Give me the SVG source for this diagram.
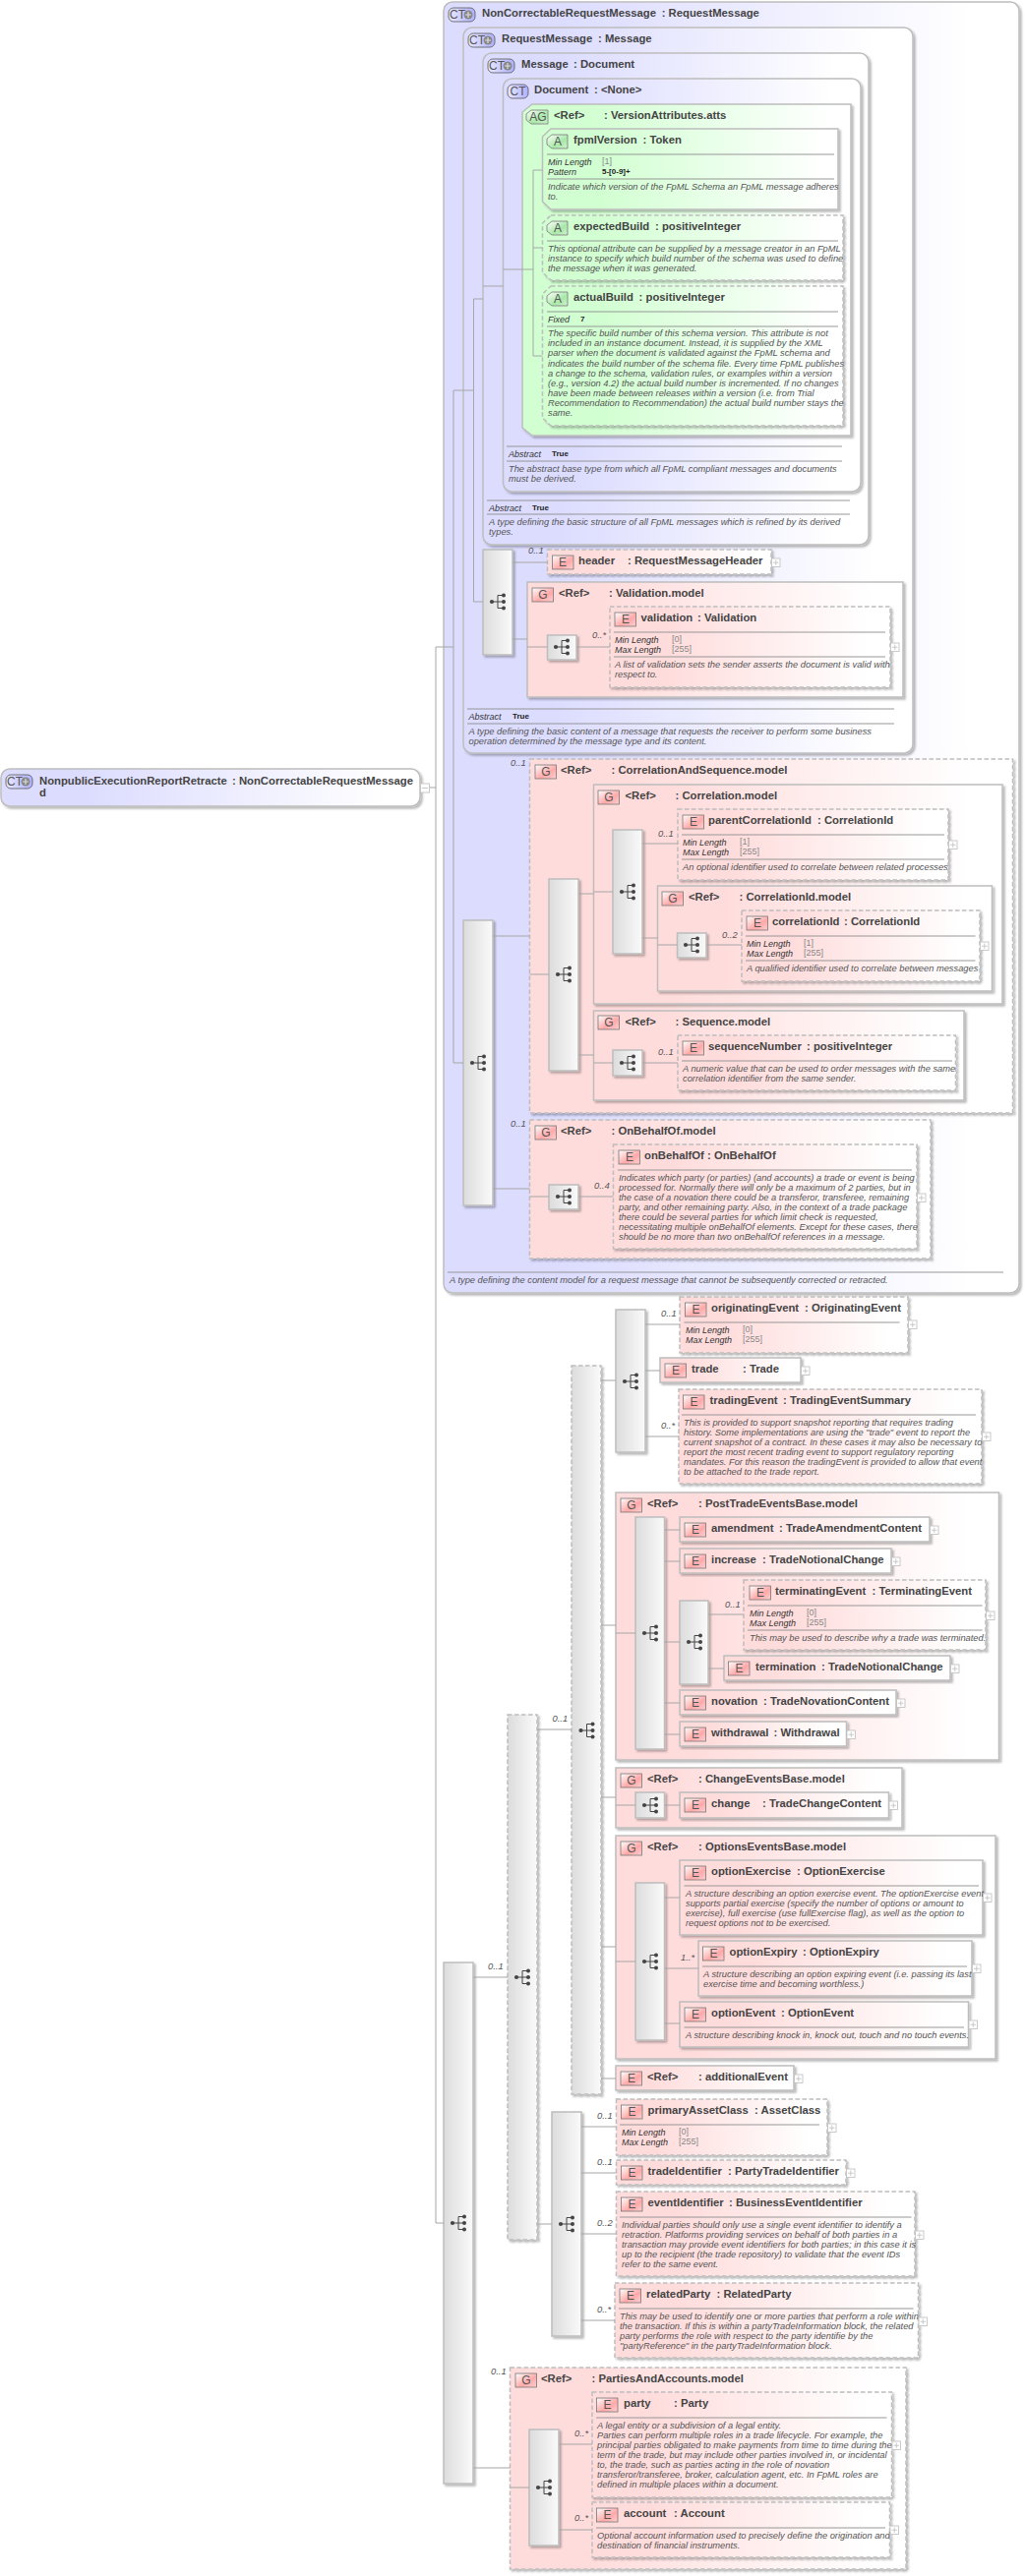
<svg xmlns="http://www.w3.org/2000/svg" xmlns:xlink="http://www.w3.org/1999/xlink" width="1042" height="2620" viewBox="0 0 1042 2620">
<style>
text{font-family:"Liberation Sans",Arial,sans-serif}
.n{stroke:#bdbdbd;stroke-width:1.5;filter:url(#sh)}
.d{stroke-dasharray:4.5 2.5}
.fc{fill:url(#gc)}.fe{fill:url(#ge)}.fa{fill:url(#ga)}.fs{fill:url(#gs)}
.t{font-size:11.3px;font-weight:bold;fill:#444}
.s{font-size:9.3px;font-style:italic;fill:#555}
.l{font-size:9px;font-style:italic;fill:#333}
.v{font-size:9px;fill:#888}
.b{font-size:8px;font-weight:bold;fill:#222}
.o{font-size:9.4px;font-style:italic;fill:#555}
.i{font-size:12px;fill:#555;text-anchor:middle}
.ie{fill:url(#gie);stroke:#777;stroke-width:.8}
.ia{fill:url(#gia);stroke:#777;stroke-width:.8}
.ic{fill:url(#gic);stroke:#555;stroke-width:.8}
.r{stroke:#8c8c8c;stroke-width:.9;fill:none}
#conn path{stroke:#a6a6a6;stroke-width:1;fill:none}
.pb{fill:#fff;stroke:#c4c4c4;stroke-width:.9}
.pl{stroke:#c4c4c4;stroke-width:.9;fill:none}
</style>
<defs>
<filter id="sh" x="-10%" y="-10%" width="125%" height="125%"><feDropShadow dx="2" dy="2" stdDeviation="1" flood-color="#000" flood-opacity=".28"/></filter>
<linearGradient id="gc"><stop offset="0" stop-color="#dcdcff"/><stop offset=".2" stop-color="#dcdcff"/><stop offset=".92" stop-color="#fff"/></linearGradient>
<linearGradient id="ge"><stop offset="0" stop-color="#ffdcdc"/><stop offset=".2" stop-color="#ffdcdc"/><stop offset=".92" stop-color="#fff"/></linearGradient>
<linearGradient id="ga"><stop offset="0" stop-color="#d2ffd2"/><stop offset=".2" stop-color="#d2ffd2"/><stop offset=".95" stop-color="#fff"/></linearGradient>
<linearGradient id="gs"><stop offset="0" stop-color="#dcdcdc"/><stop offset="1" stop-color="#fafafa"/></linearGradient>
<linearGradient id="gie" x2="1" y2="1"><stop offset="0" stop-color="#fff"/><stop offset=".6" stop-color="#ffa8a8"/><stop offset="1" stop-color="#ffd0d0"/></linearGradient>
<linearGradient id="gia" x2="1" y2="1"><stop offset="0" stop-color="#fff"/><stop offset=".6" stop-color="#a8e8a8"/><stop offset="1" stop-color="#d0f0d0"/></linearGradient>
<linearGradient id="gic"><stop offset="0" stop-color="#e8e8ff"/><stop offset="1" stop-color="#b0b0ff"/></linearGradient>
<g id="q"><path d="M-6 0H0M0-6.5H6M0 0H6M0 6.5H6M0-6.5V6.5" stroke="#444" stroke-width="1" fill="none"/><circle cx="-6" r="2.1" fill="#444"/><circle cx="6" cy="-6.5" r="2" fill="#444"/><circle cx="6" r="2" fill="#444"/><circle cx="6" cy="6.5" r="2" fill="#444"/></g>
<g id="p"><rect class="pb" width="8.5" height="8.5"/><path class="pl" d="M1.5 4.25H7M4.25 1.5V7"/></g>
<g id="cp"><circle cx="0" cy="0" r="4.5" fill="#888"/><path d="M-3 0H3M0-3V3" stroke="#ddd" stroke-width="1.2"/></g>
</defs>

<g id="ct-noncorrectable"><rect class="n fc" x="451" y="2" width="585" height="1313" rx="9"/><rect class="ic" x="456" y="8" width="27" height="14" rx="5"/><text class="i" x="465" y="19">CT</text><use href="#cp" x="476" y="15"/><text class="t" x="490" y="17">NonCorrectableRequestMessage<tspan x="672.7">: RequestMessage</tspan></text>
<path class="r" d="M455 1294H1020"/><text class="s" x="457" y="1305">A type defining the content model for a request message that cannot be subsequently corrected or retracted.</text></g>

<g id="ct-request"><rect class="n fc" x="471" y="28" width="457" height="738" rx="9"/><rect class="ic" x="476" y="34" width="27" height="14" rx="5"/><text class="i" x="485" y="45">CT</text><use href="#cp" x="496" y="41"/><text class="t" x="510" y="43">RequestMessage<tspan x="608">: Message</tspan></text>
<path class="r" d="M475 721H909M475 736H909"/><text class="l" x="476.5" y="732">Abstract</text><text class="b" x="521" y="731">True</text><text class="s" x="476.5" y="747">A type defining the basic content of a message that requests the receiver to perform some business</text><text class="s" x="476.5" y="757">operation determined by the message type and its content.</text></g>

<g id="ct-message"><rect class="n fc" x="491" y="54" width="392" height="500" rx="9"/><rect class="ic" x="496" y="60" width="27" height="14" rx="5"/><text class="i" x="505" y="71">CT</text><use href="#cp" x="516" y="67"/><text class="t" x="530" y="69">Message<tspan x="583">: Document</tspan></text>
<path class="r" d="M495 509H864M495 523H864"/><text class="l" x="497" y="520">Abstract</text><text class="b" x="541" y="519">True</text><text class="s" x="497" y="534">A type defining the basic structure of all FpML messages which is refined by its derived</text><text class="s" x="497" y="544">types.</text></g>

<g id="ct-document"><rect class="n fc" x="511.5" y="80" width="363.5" height="420" rx="9"/><rect class="ic" x="516" y="86" width="21" height="14" rx="5"/><text class="i" x="526.5" y="97">CT</text><text class="t" x="543" y="95">Document<tspan x="604">: &lt;None&gt;</tspan></text>
<path class="r" d="M515 454H856M515 469H856"/><text class="l" x="517" y="465">Abstract</text><text class="b" x="561" y="464">True</text><text class="s" x="517" y="480">The abstract base type from which all FpML compliant messages and documents</text><text class="s" x="517" y="490">must be derived.</text></g>

<g id="ag-version"><path class="n fa" d="M541 106H865V443H541L531 435V114Z"/><path class="ia" d="M540 112H557V126H540L535 122V116Z"/><text class="i" x="547" y="123">AG</text><text class="t" x="563" y="121">&lt;Ref&gt;<tspan x="614">: VersionAttributes.atts</tspan></text></g>

<g id="a-fpmlVersion"><path class="n fa" d="M560 131H852V213H560L551.5 205V139Z"/><path class="ia" d="M561 137H577V151H561L556 147V141Z"/><text class="i" x="567" y="148">A</text><text class="t" x="583" y="146">fpmlVersion<tspan x="653.5">: Token</tspan></text><path class="r" d="M556 157H848M556 182H848"/><text class="l" x="557" y="168">Min Length</text><text class="v" x="612" y="167">[1]</text><text class="l" x="557" y="178">Pattern</text><text class="b" x="612" y="177">5-[0-9]+</text><text class="s" x="557" y="193">Indicate which version of the FpML Schema an FpML message adheres</text><text class="s" x="557" y="203">to.</text></g>

<g id="a-expectedBuild"><path class="n d fa" d="M560 219H857V285H560L551.5 277V227Z"/><path class="ia" d="M561 225H577V239H561L556 235V229Z"/><text class="i" x="567" y="236">A</text><text class="t" x="583" y="234">expectedBuild<tspan x="666">: positiveInteger</tspan></text><path class="r" d="M556 245H852"/><text class="s" x="557" y="256">This optional attribute can be supplied by a message creator in an FpML</text><text class="s" x="557" y="266">instance to specify which build number of the schema was used to define</text><text class="s" x="557" y="276">the message when it was generated.</text></g>

<g id="a-actualBuild"><path class="n d fa" d="M560 291H857V433H560L551.5 425V299Z"/><path class="ia" d="M561 297H577V311H561L556 307V301Z"/><text class="i" x="567" y="308">A</text><text class="t" x="583" y="306">actualBuild<tspan x="649.6">: positiveInteger</tspan></text><path class="r" d="M556 317H852M556 332H852"/><text class="l" x="557" y="328">Fixed</text><text class="b" x="590" y="327">7</text>
<text class="s" x="557" y="342">The specific build number of this schema version. This attribute is not</text><text class="s" x="557" y="352">included in an instance document. Instead, it is supplied by the XML</text><text class="s" x="557" y="362">parser when the document is validated against the FpML schema and</text><text class="s" x="557" y="372.5">indicates the build number of the schema file. Every time FpML publishes</text><text class="s" x="557" y="382.5">a change to the schema, validation rules, or examples within a version</text><text class="s" x="557" y="392.5">(e.g., version 4.2) the actual build number is incremented. If no changes</text><text class="s" x="557" y="402.5">have been made between releases within a version (i.e. from Trial</text><text class="s" x="557" y="412.5">Recommendation to Recommendation) the actual build number stays the</text><text class="s" x="557" y="423">same.</text></g>

<g id="seq-request"><rect class="n fs" x="491" y="559" width="30" height="107"/><use href="#q" x="506" y="612"/></g>
<g id="e-header"><rect class="n d fe" x="556.5" y="559" width="227.5" height="25"/><rect class="ie" x="561.5" y="565" width="21.5" height="14"/><text class="i" x="572" y="576">E</text><text class="t" x="588" y="574">header<tspan x="638">: RequestMessageHeader</tspan></text><use href="#p" x="784.5" y="568"/></g>
<g id="g-validation"><rect class="n fe" x="536" y="592" width="382" height="117"/><rect class="ie" x="541" y="598" width="21.5" height="14"/><text class="i" x="552" y="609">G</text><text class="t" x="568" y="607">&lt;Ref&gt;<tspan x="619">: Validation.model</tspan></text></g>
<g id="seq-validation"><rect class="n fs" x="556.5" y="646" width="29.5" height="25"/><use href="#q" x="571" y="658"/></g>
<g id="e-validation"><rect class="n d fe" x="620" y="617" width="285" height="82"/><rect class="ie" x="625" y="623" width="21.5" height="14"/><text class="i" x="636" y="634">E</text><text class="t" x="651.5" y="632">validation<tspan x="709">: Validation</tspan></text><path class="r" d="M624 643H900M624 668H900"/><text class="l" x="625" y="654">Min Length</text><text class="v" x="683" y="653">[0]</text><text class="l" x="625" y="664">Max Length</text><text class="v" x="683" y="663">[255]</text><text class="s" x="625" y="679">A list of validation sets the sender asserts the document is valid with</text><text class="s" x="625" y="689">respect to.</text><use href="#p" x="905.5" y="654"/></g>

<g id="seq-content"><rect class="n fs" x="471" y="936" width="30" height="290"/><use href="#q" x="486" y="1081"/></g>
<g id="g-correlationAndSequence"><rect class="n d fe" x="538.5" y="772" width="491" height="360"/><rect class="ie" x="544" y="778" width="21.5" height="14"/><text class="i" x="555" y="789">G</text><text class="t" x="570" y="787">&lt;Ref&gt;<tspan x="621.5">: CorrelationAndSequence.model</tspan></text></g>
<g id="seq-cas"><rect class="n fs" x="558" y="894" width="30" height="195"/><use href="#q" x="573" y="991"/></g>
<g id="g-correlation"><rect class="n fe" x="603.5" y="798" width="415.5" height="223"/><rect class="ie" x="608" y="804" width="21.5" height="14"/><text class="i" x="619" y="815">G</text><text class="t" x="635.5" y="813">&lt;Ref&gt;<tspan x="686.5">: Correlation.model</tspan></text></g>
<g id="seq-correlation"><rect class="n fs" x="623" y="844" width="30" height="126"/><use href="#q" x="638" y="907"/></g>
<g id="e-parentCorrelationId"><rect class="n d fe" x="689" y="823" width="275" height="72"/><rect class="ie" x="694" y="829" width="21.5" height="14"/><text class="i" x="705" y="840">E</text><text class="t" x="720" y="838">parentCorrelationId<tspan x="831">: CorrelationId</tspan></text><path class="r" d="M693 849H960M693 874H960"/><text class="l" x="694" y="860">Min Length</text><text class="v" x="752" y="859">[1]</text><text class="l" x="694" y="870">Max Length</text><text class="v" x="752" y="869">[255]</text><text class="s" x="694" y="885">An optional identifier used to correlate between related processes</text><use href="#p" x="964.5" y="855"/></g>
<g id="g-correlationId"><rect class="n fe" x="668.5" y="901" width="340" height="107"/><rect class="ie" x="673" y="907" width="21.5" height="14"/><text class="i" x="684" y="918">G</text><text class="t" x="700" y="916">&lt;Ref&gt;<tspan x="751.5">: CorrelationId.model</tspan></text></g>
<g id="seq-correlationId"><rect class="n fs" x="688.5" y="949" width="29.5" height="25"/><use href="#q" x="703" y="961"/></g>
<g id="e-correlationId"><rect class="n d fe" x="754" y="926" width="242" height="72"/><rect class="ie" x="759" y="932" width="21.5" height="14"/><text class="i" x="770" y="943">E</text><text class="t" x="785" y="941">correlationId<tspan x="858">: CorrelationId</tspan></text><path class="r" d="M758 952H991.5M758 977H991.5"/><text class="l" x="759" y="963">Min Length</text><text class="v" x="817" y="962">[1]</text><text class="l" x="759" y="973">Max Length</text><text class="v" x="817" y="972">[255]</text><text class="s" x="759" y="988">A qualified identifier used to correlate between messages</text><use href="#p" x="996.5" y="958"/></g>
<g id="g-sequence"><rect class="n fe" x="603.5" y="1028" width="376.5" height="91"/><rect class="ie" x="608" y="1033" width="21.5" height="14"/><text class="i" x="619" y="1044">G</text><text class="t" x="635.5" y="1043">&lt;Ref&gt;<tspan x="686.5">: Sequence.model</tspan></text></g>
<g id="seq-sequence"><rect class="n fs" x="623" y="1068" width="30" height="26"/><use href="#q" x="638" y="1081"/></g>
<g id="e-sequenceNumber"><rect class="n d fe" x="689" y="1053" width="282.5" height="56"/><rect class="ie" x="694" y="1059" width="21.5" height="14"/><text class="i" x="705" y="1070">E</text><text class="t" x="720" y="1068">sequenceNumber<tspan x="820">: positiveInteger</tspan></text><path class="r" d="M693 1079H968"/><text class="s" x="694" y="1090">A numeric value that can be used to order messages with the same</text><text class="s" x="694" y="1100">correlation identifier from the same sender.</text></g>
<g id="g-onBehalfOf"><rect class="n d fe" x="538.5" y="1139" width="407.5" height="141"/><rect class="ie" x="544" y="1145" width="21.5" height="14"/><text class="i" x="555" y="1156">G</text><text class="t" x="570" y="1154">&lt;Ref&gt;<tspan x="621.5">: OnBehalfOf.model</tspan></text></g>
<g id="seq-onBehalfOf"><rect class="n fs" x="558" y="1205" width="30" height="25"/><use href="#q" x="573" y="1217"/></g>
<g id="e-onBehalfOf"><rect class="n d fe" x="623.5" y="1164" width="308.5" height="106"/><rect class="ie" x="629" y="1170" width="21.5" height="14"/><text class="i" x="640" y="1181">E</text><text class="t" x="655" y="1179">onBehalfOf<tspan x="719">: OnBehalfOf</tspan></text><path class="r" d="M628 1190H927"/><text class="s" x="629" y="1201">Indicates which party (or parties) (and accounts) a trade or event is being</text><text class="s" x="629" y="1211">processed for. Normally there will only be a maximum of 2 parties, but in</text><text class="s" x="629" y="1221">the case of a novation there could be a transferor, transferee, remaining</text><text class="s" x="629" y="1231">party, and other remaining party. Also, in the context of a trade package</text><text class="s" x="629" y="1241">there could be several parties for which limit check is requested,</text><text class="s" x="629" y="1251">necessitating multiple onBehalfOf elements. Except for these cases, there</text><text class="s" x="629" y="1261">should be no more than two onBehalfOf references in a message.</text><use href="#p" x="932.5" y="1214"/></g>

<g id="ct-root"><rect class="n fc" x="1" y="782" width="426" height="38" rx="9"/><rect class="ic" x="6" y="788" width="27" height="14" rx="5"/><text class="i" x="15" y="799">CT</text><use href="#cp" x="26" y="795"/><text class="t" x="40" y="798">NonpublicExecutionReportRetracte<tspan x="236">: NonCorrectableRequestMessage</tspan></text><text class="t" x="40" y="810">d</text><rect class="pb" x="427.5" y="797" width="9" height="9"/><path class="pl" d="M429 801.5H435"/></g>

<g id="seq-root"><rect class="n fs" x="451" y="1996" width="30" height="530"/><use href="#q" x="466" y="2261"/></g>
<g id="seq-level2"><rect class="n d fs" x="516" y="1744" width="30" height="534"/><use href="#q" x="531" y="2011"/></g>
<g id="seq-level3"><rect class="n d fs" x="581" y="1389" width="30" height="741"/><use href="#q" x="596.5" y="1760"/></g>
<g id="seq-top"><rect class="n fs" x="626" y="1332" width="30" height="145"/><use href="#q" x="641" y="1405"/></g>
<g id="e-originatingEvent"><rect class="n d fe" x="691" y="1319" width="232" height="57"/><rect class="ie" x="696.5" y="1325" width="21.5" height="14"/><text class="i" x="707.5" y="1336">E</text><text class="t" x="723" y="1334">originatingEvent<tspan x="818">: OriginatingEvent</tspan></text><path class="r" d="M695.5 1345H914.5"/><text class="l" x="697" y="1356">Min Length</text><text class="v" x="755" y="1355">[0]</text><text class="l" x="697" y="1366">Max Length</text><text class="v" x="755" y="1365">[255]</text><use href="#p" x="923.5" y="1343"/></g>
<g id="e-trade"><rect class="n fe" x="671" y="1381" width="143" height="25"/><rect class="ie" x="676" y="1387" width="21.5" height="14"/><text class="i" x="687" y="1398">E</text><text class="t" x="703" y="1396">trade<tspan x="755">: Trade</tspan></text><use href="#p" x="814.5" y="1390"/></g>
<g id="e-tradingEvent"><rect class="n d fe" x="690" y="1413" width="308" height="96"/><rect class="ie" x="694.5" y="1419" width="21.5" height="14"/><text class="i" x="705.5" y="1430">E</text><text class="t" x="721.5" y="1428">tradingEvent<tspan x="796">: TradingEventSummary</tspan></text><path class="r" d="M693 1439H992"/><text class="s" x="695" y="1450">This is provided to support snapshot reporting that requires trading</text><text class="s" x="695" y="1460">history. Some implementations are using the "trade" event to report the</text><text class="s" x="695" y="1470">current snapshot of a contract. In these cases it may also be necessary to</text><text class="s" x="695" y="1480">report the most recent trading event to support regulatory reporting</text><text class="s" x="695" y="1490">mandates. For this reason the tradingEvent is provided to allow that event</text><text class="s" x="695" y="1500">to be attached to the trade report.</text><use href="#p" x="998.5" y="1457"/></g>

<g id="g-postTrade"><rect class="n fe" x="626" y="1518" width="389.5" height="272"/><rect class="ie" x="631" y="1524" width="21.5" height="14"/><text class="i" x="642" y="1535">G</text><text class="t" x="658" y="1533">&lt;Ref&gt;<tspan x="710">: PostTradeEventsBase.model</tspan></text></g>
<g id="seq-postTrade"><rect class="n fs" x="646" y="1543" width="29.5" height="236"/><use href="#q" x="661" y="1661"/></g>
<g id="e-amendment"><rect class="n fe" x="691" y="1543" width="254" height="25"/><rect class="ie" x="696" y="1549" width="21.5" height="14"/><text class="i" x="707" y="1560">E</text><text class="t" x="723" y="1558">amendment<tspan x="792">: TradeAmendmentContent</tspan></text><use href="#p" x="945.5" y="1552"/></g>
<g id="e-increase"><rect class="n fe" x="691" y="1575" width="215" height="25"/><rect class="ie" x="696" y="1581" width="21.5" height="14"/><text class="i" x="707" y="1592">E</text><text class="t" x="723" y="1590">increase<tspan x="775">: TradeNotionalChange</tspan></text><use href="#p" x="906.5" y="1584"/></g>
<g id="seq-termination"><rect class="n fs" x="691" y="1628" width="29" height="85"/><use href="#q" x="706" y="1670"/></g>
<g id="e-terminatingEvent"><rect class="n d fe" x="756" y="1607" width="246" height="71"/><rect class="ie" x="762" y="1613" width="21.5" height="14"/><text class="i" x="773" y="1624">E</text><text class="t" x="788" y="1622">terminatingEvent<tspan x="886.5">: TerminatingEvent</tspan></text><path class="r" d="M760 1633H998.6M760 1658H998.6"/><text class="l" x="762" y="1644">Min Length</text><text class="v" x="820" y="1643">[0]</text><text class="l" x="762" y="1654">Max Length</text><text class="v" x="820" y="1653">[255]</text><text class="s" x="762" y="1669">This may be used to describe why a trade was terminated.</text><use href="#p" x="1002.5" y="1639"/></g>
<g id="e-termination"><rect class="n fe" x="736" y="1684" width="230" height="25"/><rect class="ie" x="740.5" y="1690" width="21.5" height="14"/><text class="i" x="751.5" y="1701">E</text><text class="t" x="768" y="1699">termination<tspan x="835">: TradeNotionalChange</tspan></text><use href="#p" x="966.5" y="1693"/></g>
<g id="e-novation"><rect class="n fe" x="691" y="1719" width="220" height="25"/><rect class="ie" x="696" y="1725" width="21.5" height="14"/><text class="i" x="707" y="1736">E</text><text class="t" x="723" y="1734">novation<tspan x="776">: TradeNovationContent</tspan></text><use href="#p" x="911.5" y="1728"/></g>
<g id="e-withdrawal"><rect class="n fe" x="691" y="1751" width="169.5" height="25"/><rect class="ie" x="696" y="1757" width="21.5" height="14"/><text class="i" x="707" y="1768">E</text><text class="t" x="723" y="1766">withdrawal<tspan x="786.5">: Withdrawal</tspan></text><use href="#p" x="861" y="1760"/></g>

<g id="g-changeEvents"><rect class="n fe" x="626" y="1798" width="291" height="61"/><rect class="ie" x="631" y="1804" width="21.5" height="14"/><text class="i" x="642" y="1815">G</text><text class="t" x="658" y="1813">&lt;Ref&gt;<tspan x="710">: ChangeEventsBase.model</tspan></text></g>
<g id="seq-change"><rect class="n fs" x="646" y="1823" width="29.5" height="26"/><use href="#q" x="661" y="1836"/></g>
<g id="e-change"><rect class="n fe" x="691" y="1823" width="212.5" height="26"/><rect class="ie" x="696" y="1829" width="21.5" height="14"/><text class="i" x="707" y="1840">E</text><text class="t" x="723" y="1838">change<tspan x="775">: TradeChangeContent</tspan></text><use href="#p" x="904" y="1832"/></g>

<g id="g-optionsEvents"><rect class="n fe" x="626" y="1867" width="386" height="227"/><rect class="ie" x="631" y="1873" width="21.5" height="14"/><text class="i" x="642" y="1884">G</text><text class="t" x="658" y="1882">&lt;Ref&gt;<tspan x="710">: OptionsEventsBase.model</tspan></text></g>
<g id="seq-options"><rect class="n fs" x="646" y="1915" width="29.5" height="160"/><use href="#q" x="661" y="1995"/></g>
<g id="e-optionExercise"><rect class="n fe" x="691" y="1892" width="308" height="76"/><rect class="ie" x="696" y="1898" width="21.5" height="14"/><text class="i" x="707" y="1909">E</text><text class="t" x="723" y="1907">optionExercise<tspan x="810">: OptionExercise</tspan></text><path class="r" d="M695.5 1918H995"/><text class="s" x="697" y="1929">A structure describing an option exercise event. The optionExercise event</text><text class="s" x="697" y="1939">supports partial exercise (specify the number of options or amount to</text><text class="s" x="697" y="1949">exercise), full exercise (use fullExercise flag), as well as the option to</text><text class="s" x="697" y="1959">request options not to be exercised.</text><use href="#p" x="999.5" y="1926"/></g>
<g id="e-optionExpiry"><rect class="n fe" x="710" y="1974" width="278" height="56"/><rect class="ie" x="714.5" y="1980" width="21.5" height="14"/><text class="i" x="725.5" y="1991">E</text><text class="t" x="741.5" y="1989">optionExpiry<tspan x="816">: OptionExpiry</tspan></text><path class="r" d="M714 2000H983"/><text class="s" x="715" y="2011">A structure describing an option expiring event (i.e. passing its last</text><text class="s" x="715" y="2021">exercise time and becoming worthless.)</text><use href="#p" x="988.5" y="1998"/></g>
<g id="e-optionEvent"><rect class="n fe" x="691" y="2036" width="293.5" height="46"/><rect class="ie" x="696" y="2042" width="21.5" height="14"/><text class="i" x="707" y="2053">E</text><text class="t" x="723" y="2051">optionEvent<tspan x="794">: OptionEvent</tspan></text><path class="r" d="M695.5 2062H980"/><text class="s" x="697" y="2073">A structure describing knock in, knock out, touch and no touch events.</text><use href="#p" x="985" y="2055"/></g>
<g id="e-additionalEvent"><rect class="n fe" x="626" y="2101" width="181" height="25"/><rect class="ie" x="631" y="2107" width="21.5" height="14"/><text class="i" x="642" y="2118">E</text><text class="t" x="658" y="2116">&lt;Ref&gt;<tspan x="710">: additionalEvent</tspan></text><use href="#p" x="807.5" y="2110"/></g>

<g id="seq-identifiers"><rect class="n fs" x="561" y="2148" width="30" height="228"/><use href="#q" x="576" y="2262"/></g>
<g id="e-primaryAssetClass"><rect class="n d fe" x="626.5" y="2135" width="214.5" height="57"/><rect class="ie" x="631.5" y="2141" width="21.5" height="14"/><text class="i" x="642.5" y="2152">E</text><text class="t" x="658.5" y="2150">primaryAssetClass<tspan x="767">: AssetClass</tspan></text><path class="r" d="M630 2161H833"/><text class="l" x="632" y="2172">Min Length</text><text class="v" x="690" y="2171">[0]</text><text class="l" x="632" y="2182">Max Length</text><text class="v" x="690" y="2181">[255]</text><use href="#p" x="841.5" y="2160"/></g>
<g id="e-tradeIdentifier"><rect class="n d fe" x="626.5" y="2197" width="233.5" height="25"/><rect class="ie" x="631.5" y="2203" width="21.5" height="14"/><text class="i" x="642.5" y="2214">E</text><text class="t" x="658.5" y="2212">tradeIdentifier<tspan x="740">: PartyTradeIdentifier</tspan></text><use href="#p" x="860.5" y="2206"/></g>
<g id="e-eventIdentifier"><rect class="n d fe" x="626.5" y="2229" width="303.5" height="86"/><rect class="ie" x="631.5" y="2235" width="21.5" height="14"/><text class="i" x="642.5" y="2246">E</text><text class="t" x="658.5" y="2244">eventIdentifier<tspan x="741">: BusinessEventIdentifier</tspan></text><path class="r" d="M630 2255H926.5"/><text class="s" x="632" y="2266">Individual parties should only use a single event identifier to identify a</text><text class="s" x="632" y="2276">retraction. Platforms providing services on behalf of both parties in a</text><text class="s" x="632" y="2286">transaction may provide event identifiers for both parties; in this case it is</text><text class="s" x="632" y="2296">up to the recipient (the trade repository) to validate that the event IDs</text><text class="s" x="632" y="2306">refer to the same event.</text><use href="#p" x="930.5" y="2269"/></g>
<g id="e-relatedParty"><rect class="n d fe" x="625" y="2322" width="308.5" height="76"/><rect class="ie" x="630" y="2328" width="21.5" height="14"/><text class="i" x="641" y="2339">E</text><text class="t" x="657" y="2337">relatedParty<tspan x="728.5">: RelatedParty</tspan></text><path class="r" d="M629 2348H928.5"/><text class="s" x="630" y="2359">This may be used to identify one or more parties that perform a role within</text><text class="s" x="630" y="2369">the transaction. If this is within a partyTradeInformation block, the related</text><text class="s" x="630" y="2379">party performs the role with respect to the party identifie by the</text><text class="s" x="630" y="2389">"partyReference" in the partyTradeInformation block.</text><use href="#p" x="934" y="2357"/></g>

<g id="g-partiesAndAccounts"><rect class="n d fe" x="518.5" y="2408" width="402.5" height="205"/><rect class="ie" x="524" y="2414" width="21.5" height="14"/><text class="i" x="535" y="2425">G</text><text class="t" x="550" y="2423">&lt;Ref&gt;<tspan x="601.5">: PartiesAndAccounts.model</tspan></text></g>
<g id="seq-parties"><rect class="n fs" x="538" y="2471" width="30" height="118"/><use href="#q" x="553" y="2530"/></g>
<g id="e-party"><rect class="n d fe" x="602" y="2433" width="304.5" height="107"/><rect class="ie" x="606.5" y="2439" width="21.5" height="14"/><text class="i" x="617.5" y="2450">E</text><text class="t" x="634" y="2448">party<tspan x="685">: Party</tspan></text><path class="r" d="M606 2459H901.5"/><text class="s" x="607" y="2470">A legal entity or a subdivision of a legal entity.</text><text class="s" x="607" y="2480">Parties can perform multiple roles in a trade lifecycle. For example, the</text><text class="s" x="607" y="2490">principal parties obligated to make payments from time to time during the</text><text class="s" x="607" y="2500">term of the trade, but may include other parties involved in, or incidental</text><text class="s" x="607" y="2510">to, the trade, such as parties acting in the role of novation</text><text class="s" x="607" y="2520">transferor/transferee, broker, calculation agent, etc. In FpML roles are</text><text class="s" x="607" y="2530">defined in multiple places within a document.</text><use href="#p" x="907" y="2483"/></g>
<g id="e-account"><rect class="n d fe" x="602" y="2545" width="302.5" height="56"/><rect class="ie" x="606.5" y="2551" width="21.5" height="14"/><text class="i" x="617.5" y="2562">E</text><text class="t" x="634" y="2560">account<tspan x="685">: Account</tspan></text><path class="r" d="M606 2571H900"/><text class="s" x="607" y="2582">Optional account information used to precisely define the origination and</text><text class="s" x="607" y="2592">destination of financial instruments.</text><use href="#p" x="905" y="2569"/></g>

<g id="conn"><path d="M437 801H443M443 658V2261M443 658H461M443 2261H451M461 397V1081M461 397H481.5M461 1081H471M481.5 304V612M481.5 304H491M481.5 612H491M491 291H511.5M511.5 274H542M542 173V362M542 173H551.5M542 252H551.5M542 362H551.5"/>
<path d="M521 572H556.5M521 650H536M536 658H556.5M586 658H620"/>
<path d="M501 952H538.5M501 1209H538.5M538.5 991H558M588 909H603.5M588 1073H603.5M603.5 907H623M653 858H689M653 954H668.5M668.5 961H688.5M718 961H754M603.5 1081H623M653 1081H689M538.5 1217H558M588 1217H623.5"/>
<path d="M481 2011H516M546 1759H581M546 2262H561M611 1404H626M656 1347H691M656 1394H671M656 1461H690M611 1653H626M626 1661H646M675.5 1556H691M675.5 1588H691M675.5 1670H691M720 1642H756M720 1697H736M675.5 1732H691M675.5 1764H691M611 1828H626M626 1836H646M675.5 1836H691M611 1980H626M626 1995H646M675.5 1930H691M675.5 2002H710M675.5 2058H691M611 2114H626"/>
<path d="M591 2163H626.5M591 2210H626.5M591 2272H626.5M591 2360H625M481 2510H518.5M518.5 2530H538M568 2486H602M568 2573H602"/></g>

<g id="occurs">
<text class="o" x="537" y="563">0..1</text><text class="o" x="602" y="649">0..*</text><text class="o" x="519" y="779">0..1</text><text class="o" x="669" y="851">0..1</text><text class="o" x="734" y="954">0..2</text><text class="o" x="669" y="1073">0..1</text><text class="o" x="519" y="1146">0..1</text><text class="o" x="604" y="1209">0..4</text><text class="o" x="672" y="1339">0..1</text><text class="o" x="672" y="1453">0..*</text><text class="o" x="737" y="1635">0..1</text><text class="o" x="561.5" y="1751">0..1</text><text class="o" x="496" y="2003">0..1</text><text class="o" x="692" y="1994">1..*</text><text class="o" x="607" y="2155">0..1</text><text class="o" x="607" y="2202">0..1</text><text class="o" x="607" y="2264">0..2</text><text class="o" x="607" y="2352">0..*</text><text class="o" x="499" y="2415">0..1</text><text class="o" x="584" y="2478">0..*</text><text class="o" x="584" y="2564">0..*</text>
</g>
</svg>
